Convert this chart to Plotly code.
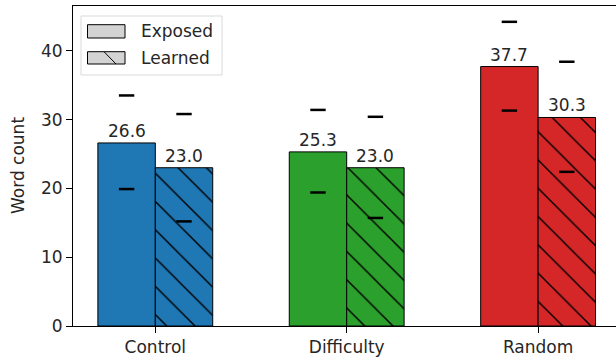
import plotly.graph_objects as go

categories = ["Control", "Difficulty", "Random"]
exposed = [26.6, 25.3, 37.7]
learned = [23.0, 23.0, 30.3]
exposed_low = [19.9, 19.4, 31.3]
exposed_high = [33.5, 31.4, 44.2]
learned_low = [15.2, 15.7, 22.4]
learned_high = [30.8, 30.4, 38.4]
colors = ["#1f77b4", "#2ca02c", "#d62728"]
yticks = [0, 10, 20, 30, 40]

W, H = 616, 360
L, R, T, B = 73, 0, 6, 34
pw, ph = W - L - R, H - T - B
FONT = "DejaVu Sans"
FS = 17
TXT = "#262626"

def px(x):
    return (x - L) / pw

def py(y):
    return (H - B - y) / ph

pos = list(range(len(categories)))
bw = 0.3
xe = [p - bw / 2 for p in pos]
xl = [p + bw / 2 for p in pos]

fig = go.Figure()
fig.add_trace(go.Bar(
    x=xe, y=exposed, width=bw,
    marker=dict(color=colors, line=dict(color="black", width=1)),
    showlegend=False, hoverinfo="skip"))
for i, c in enumerate(colors):
    fig.add_trace(go.Bar(
        x=[xl[i]], y=[learned[i]], width=bw,
        marker=dict(color=c, line=dict(color="black", width=1),
                    pattern=dict(shape="\\", fillmode="overlay",
                                 fgcolor="black", fgopacity=1, size=20, solidity=0.07)),
        showlegend=False, hoverinfo="skip"))

for xs, lo, hi in [(xe, exposed_low, exposed_high), (xl, learned_low, learned_high)]:
    fig.add_trace(go.Scatter(
        x=xs + xs, y=lo + hi, mode="markers",
        marker=dict(symbol="line-ew", size=11, line=dict(color="black", width=2.5)),
        showlegend=False, hoverinfo="skip"))

annotations = []
for xs, vals in [(xe, exposed), (xl, learned)]:
    for x, v in zip(xs, vals):
        annotations.append(dict(x=x, y=v, xref="x", yref="y", text=f"{v:.1f}",
                                showarrow=False, yanchor="bottom", yshift=0,
                                font=dict(family=FONT, size=FS, color=TXT)))

# legend drawn manually (matplotlib style)
shapes = []
shapes.append(dict(type="rect", xref="paper", yref="paper",
                   x0=px(81), x1=px(222), y0=py(75), y1=py(16),
                   line=dict(color="#d9d9d9", width=1), fillcolor="rgba(255,255,255,0.8)"))
leg_items = [("Exposed", 24.7, 38, False), ("Learned", 51.7, 64, True)]
for label, y0, y1, hatch in leg_items:
    shapes.append(dict(type="rect", xref="paper", yref="paper",
                       x0=px(87.5), x1=px(125), y0=py(y1), y1=py(y0),
                       line=dict(color="black", width=1), fillcolor="#d3d3d3"))
    if hatch:
        shapes.append(dict(type="line", xref="paper", yref="paper",
                           x0=px(104), y0=py(y0), x1=px(116), y1=py(y1),
                           line=dict(color="black", width=1)))
    annotations.append(dict(x=px(139), y=py((y0 + y1) / 2), xref="paper", yref="paper",
                            text=label, showarrow=False, xanchor="left", yanchor="middle",
                            font=dict(family=FONT, size=FS, color=TXT)))

annotations.append(dict(x=px(18), y=0.5, xref="paper", yref="paper", text="Word count",
                        textangle=-90, showarrow=False, xanchor="center", yanchor="middle",
                        font=dict(family=FONT, size=FS, color=TXT)))

fig.update_layout(
    width=W, height=H,
    margin=dict(l=L, r=R, t=T, b=B, pad=0),
    plot_bgcolor="white", paper_bgcolor="white",
    barmode="overlay",
    font=dict(family=FONT, size=FS, color=TXT),
    xaxis=dict(range=[-0.43, 2.407], tickvals=pos, ticktext=categories,
               showgrid=False, zeroline=False, showline=True, mirror=True,
               linecolor="black", linewidth=1, ticks="outside", ticklen=6,
               tickcolor="black", tickfont=dict(family=FONT, size=FS, color=TXT)),
    yaxis=dict(range=[0, 46.5], tickvals=yticks, showgrid=False, zeroline=False,
               showline=True, linecolor="black", linewidth=1, ticks="outside",
               ticklen=6, tickcolor="black",
               tickfont=dict(family=FONT, size=FS, color=TXT)),
    shapes=shapes, annotations=annotations,
)

fig.write_html("out.html", config={"displayModeBar": False},
               post_script="document.body.style.margin='0';document.body.style.overflow='hidden';")
